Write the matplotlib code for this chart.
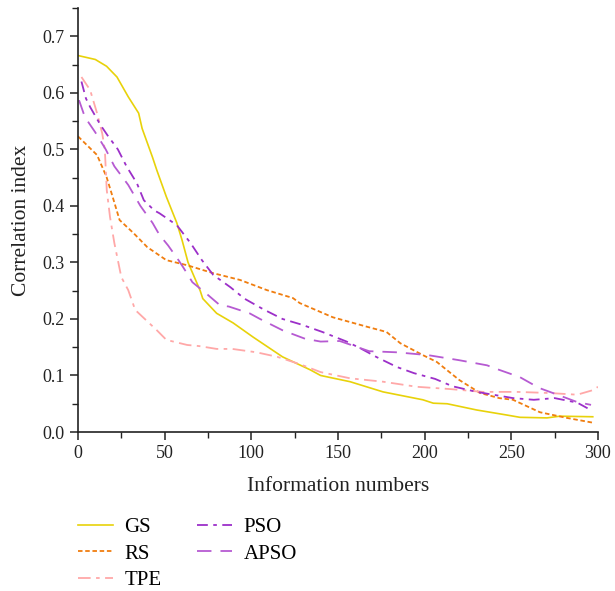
import matplotlib.pyplot as plt
from matplotlib.ticker import MultipleLocator

plt.rcParams["font.family"] = ["Liberation Serif", "DejaVu Serif"]

# values
gs_x = [0, 10, 16.5, 22.5, 29, 35, 37, 43, 45.5, 51, 57, 60, 63.5, 70.5, 72, 80, 89.5,
        101, 118, 134, 140, 157, 176, 199, 205, 213, 230, 247.5, 255, 270.6, 278, 297]
gs_y = [0.666, 0.659, 0.647, 0.628, 0.593, 0.564, 0.537, 0.486, 0.463, 0.416, 0.37, 0.34,
        0.30, 0.25, 0.236, 0.21, 0.193, 0.168, 0.133, 0.11, 0.10, 0.089, 0.071, 0.057,
        0.051, 0.05, 0.039, 0.03, 0.026, 0.025, 0.028, 0.027]

rs_x = [0, 11, 16.5, 20, 24, 32, 40, 51, 63, 78, 93.5, 109, 124, 128, 147, 167, 178, 186,
        199, 207, 220, 232, 243, 251, 266.5, 282, 298]
rs_y = [0.523, 0.49, 0.451, 0.416, 0.375, 0.352, 0.327, 0.304, 0.295, 0.281, 0.269, 0.251,
        0.237, 0.228, 0.203, 0.186, 0.177, 0.157, 0.136, 0.124, 0.092, 0.069, 0.06, 0.057,
        0.035, 0.025, 0.016]

tpe_x = [2, 7, 11, 14, 15.5, 16.6, 18.5, 21, 25, 29, 33, 37.5, 45.5, 51, 63, 70, 80, 89,
         103, 115, 128, 140, 157, 176, 195.5, 214.6, 233.6, 253, 272, 288, 297, 300]
tpe_y = [0.628, 0.605, 0.564, 0.528, 0.499, 0.428, 0.38, 0.334, 0.274, 0.251, 0.216, 0.203,
         0.18, 0.163, 0.154, 0.152, 0.147, 0.147, 0.141, 0.133, 0.12, 0.106, 0.095, 0.089,
         0.08, 0.076, 0.071, 0.071, 0.069, 0.066, 0.074, 0.08]

pso_x = [2, 4.6, 7, 13, 17, 23, 28, 34, 38, 44, 47, 57, 65, 71.5, 78, 88, 96, 107, 118,
         129, 141, 155, 163, 172, 184, 194, 206, 216, 230, 251, 263, 275, 288, 294]
pso_y = [0.62, 0.59, 0.575, 0.543, 0.525, 0.5, 0.47, 0.44, 0.41, 0.392, 0.387, 0.366,
         0.334, 0.304, 0.278, 0.256, 0.236, 0.217, 0.2, 0.19, 0.177, 0.16, 0.148, 0.133,
         0.115, 0.104, 0.094, 0.081, 0.071, 0.06, 0.057, 0.06, 0.052, 0.042]

apso_x = [0.6, 4, 10, 16, 21, 29, 36, 43, 46, 48, 52, 58, 61, 66, 74, 82, 87, 99, 105, 118,
          131, 140, 151, 168, 184, 202, 220, 236, 243, 255, 266, 274, 288, 296]
apso_y = [0.587, 0.557, 0.53, 0.5, 0.47, 0.437, 0.40, 0.37, 0.354, 0.345, 0.33, 0.304,
          0.29, 0.265, 0.245, 0.224, 0.222, 0.21, 0.2, 0.18, 0.165, 0.16, 0.161, 0.143,
          0.141, 0.136, 0.127, 0.118, 0.11, 0.097, 0.078, 0.069, 0.053, 0.048]

fig = plt.figure(figsize=(6.15, 5.91), dpi=100)
ax = fig.add_axes([0.1268, 0.269, 0.8455, 0.7174])

ax.plot(gs_x, gs_y, color="#e8d20a", lw=1.2, label="GS")
ax.plot(rs_x, rs_y, color="#f07d0f", lw=1.3, ls=(0, (2.5, 1.5)), label="RS")
ax.plot(tpe_x, tpe_y, color="#ffa8a8", lw=1.3, ls=(0, (7, 3, 2, 3)), label="TPE")
ax.plot(pso_x, pso_y, color="#9c2fc9", lw=1.3, ls=(0, (6, 3, 2, 3)), label="PSO")
ax.plot(apso_x, apso_y, color="#b65ad2", lw=1.3, ls=(0, (8, 5)), label="APSO")

ax.set_xlim(0, 300)
ax.set_ylim(0, 0.75)
ax.xaxis.set_major_locator(MultipleLocator(50))
ax.xaxis.set_minor_locator(MultipleLocator(25))
ax.yaxis.set_major_locator(MultipleLocator(0.1))
ax.yaxis.set_minor_locator(MultipleLocator(0.05))
ax.set_yticks([0, 0.1, 0.2, 0.3, 0.4, 0.5, 0.6, 0.7])
ax.set_yticklabels(["0.0", "0.1", "0.2", "0.3", "0.4", "0.5", "0.6", "0.7"])

for s in ["top", "right"]:
    ax.spines[s].set_visible(False)
for s in ["left", "bottom"]:
    ax.spines[s].set_linewidth(1.2)
    ax.spines[s].set_color("#222222")

ax.tick_params(which="major", direction="out", length=6, width=1.1, labelsize=13,
               color="#222222", labelcolor="#222222")
ax.tick_params(which="minor", direction="out", length=4, width=1.0, color="#222222")

ax.set_xlabel("Information numbers", fontsize=15.5, color="#222222", labelpad=11)
ax.set_ylabel("Correlation index", fontsize=15.5, color="#222222", labelpad=8)

fig.legend(loc="upper left", bbox_to_anchor=(0.1126, 0.138), ncol=2, frameon=False,
           fontsize=15, handlelength=1.7, columnspacing=1.7, labelspacing=0.32,
           handletextpad=0.55, borderaxespad=0.0)

fig.savefig("out.png", dpi=100)
